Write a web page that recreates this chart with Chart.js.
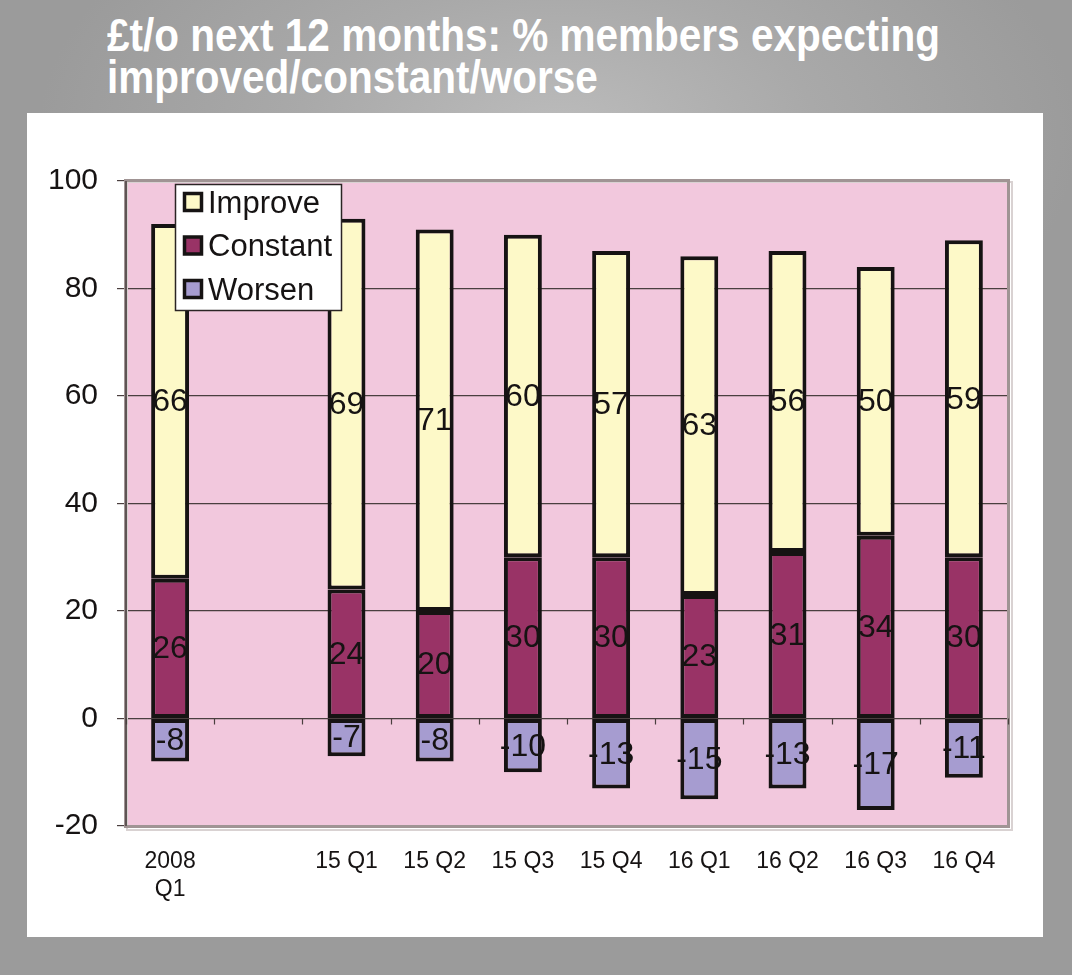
<!DOCTYPE html>
<html>
<head>
<meta charset="utf-8">
<script src="https://cdn.jsdelivr.net/npm/chart.js@4"></script>
<style>
  html, body { margin: 0; padding: 0; }
  body {
    width: 1072px; height: 975px; position: relative; overflow: hidden;
    background: #9b9b9b radial-gradient(ellipse 520px 300px at 52% 14%, #bcbcbc 0%, #a9a9a9 50%, #9b9b9b 100%);
    font-family: 'Liberation Sans', Arial, sans-serif;
  }
  #title {
    position: absolute; left: 107px; top: 14px;
    color: #fff; font-weight: bold; font-size: 46px; line-height: 42px;
    white-space: nowrap;
  }
  #title span { display: inline-block; transform-origin: 0 0; }
  #panel {
    position: absolute; left: 27px; top: 113px; width: 1016px; height: 824px;
    background: #fff;
  }
</style>
</head>
<body>
<div id="title"><span id="t1">£t/o next 12 months: % members expecting</span><br><span id="t2">improved/constant/worse</span></div>
<div id="panel"><canvas id="chart"></canvas></div>
<script>
// ── data ─────────────────────────────────────────────
const categories = [['2008', 'Q1'], '', '15 Q1', '15 Q2', '15 Q3', '15 Q4', '16 Q1', '16 Q2', '16 Q3', '16 Q4'];
const improve  = [66, null, 69, 71, 60, 57, 63, 56, 50, 59];
const constant = [26, null, 24, 20, 30, 30, 23, 31, 34, 30];
const worsen   = [-8, null, -7, -8, -10, -13, -15, -13, -17, -11];
const yMin = -20, yMax = 100, yStep = 20;
const legendOrder = ['Improve', 'Constant', 'Worsen'];

const colors = { Improve: '#fdf9c8', Constant: '#993366', Worsen: '#a69cd0' };
const ink = '#161313';
const fontFamily = "'Liberation Sans', Arial, sans-serif";

// squeeze title to the reference width
(function () {
  const t1 = document.getElementById('t1'), t2 = document.getElementById('t2');
  const k = 833 / t1.getBoundingClientRect().width;
  t1.style.transform = t2.style.transform = 'scaleX(' + k + ')';
})();

// ── plugins ──────────────────────────────────────────
const plotFrame = {
  id: 'plotFrame',
  beforeDraw(chart) {
    const a = chart.chartArea, ctx = chart.ctx;
    ctx.save();
    ctx.fillStyle = '#f2c8dd';
    ctx.fillRect(a.left, a.top, a.right - a.left, a.bottom - a.top);
    ctx.restore();
  },
  beforeDatasetsDraw(chart) {
    const a = chart.chartArea, ctx = chart.ctx;
    const xs = chart.scales.x, ys = chart.scales.y;
    ctx.save();
    // soft shadow + grey frame
    ctx.strokeStyle = '#d9d2d2';
    ctx.lineWidth = 2;
    ctx.strokeRect(a.left + 1, a.top + 1, a.right - a.left + 3, a.bottom - a.top + 3);
    ctx.strokeStyle = '#a09494';
    ctx.lineWidth = 3;
    ctx.strokeRect(a.left - 0.5, a.top - 0.5, a.right - a.left + 1, a.bottom - a.top + 1);
    // dark value axis line
    ctx.strokeStyle = '#4a3f3f';
    ctx.lineWidth = 1.5;
    ctx.beginPath();
    ctx.moveTo(a.left, a.top); ctx.lineTo(a.left, a.bottom);
    ctx.stroke();
    // category tick marks on the zero line
    const y0 = ys.getPixelForValue(0);
    const step = xs.getPixelForValue(1) - xs.getPixelForValue(0);
    ctx.lineWidth = 1.2;
    ctx.beginPath();
    for (let i = 0; i <= categories.length; i++) {
      const x = Math.round(xs.getPixelForValue(i) - step / 2) + 0.5;
      ctx.moveTo(x, y0); ctx.lineTo(x, y0 + 6);
    }
    ctx.stroke();
    ctx.restore();
  },
  afterDatasetsDraw(chart) {
    const ctx = chart.ctx, a = chart.chartArea;
    ctx.save();
    // value labels centred in each segment
    ctx.font = '32px ' + fontFamily;
    ctx.fillStyle = ink;
    ctx.textAlign = 'center';
    ctx.textBaseline = 'middle';
    chart.data.datasets.forEach((ds, di) => {
      chart.getDatasetMeta(di).data.forEach((el, i) => {
        const v = ds.data[i];
        if (v == null) return;
        ctx.fillText(String(v), el.x, (el.y + el.base) / 2 + 1);
      });
    });
    // legend box
    const lx = a.left + 49, ly = a.top + 3, lw = 166, lh = 126;
    ctx.fillStyle = '#fff';
    ctx.fillRect(lx, ly, lw, lh);
    ctx.strokeStyle = '#2b2424';
    ctx.lineWidth = 1.5;
    ctx.strokeRect(lx + 0.5, ly + 0.5, lw, lh);
    ctx.font = '31px ' + fontFamily;
    ctx.textAlign = 'left';
    legendOrder.forEach((name, k) => {
      const cy = ly + 18 + k * 43.5;
      const ds = chart.data.datasets.find(d => d.label === name);
      ctx.fillStyle = ds.backgroundColor;
      ctx.fillRect(lx + 9.5, cy - 8.5, 17, 17);
      ctx.strokeStyle = ink;
      ctx.lineWidth = 3.5;
      ctx.strokeRect(lx + 9.5, cy - 8.5, 17, 17);
      ctx.fillStyle = ink;
      ctx.fillText(name, lx + 33, cy + 2);
    });
    ctx.restore();
  }
};

// ── chart ────────────────────────────────────────────
const barStyle = { borderColor: ink, borderWidth: 4, borderSkipped: false, barPercentage: 0.43, categoryPercentage: 1.0 };

new Chart(document.getElementById('chart'), {
  type: 'bar',
  data: {
    labels: categories,
    datasets: [
      Object.assign({ label: 'Constant', data: constant, backgroundColor: colors.Constant }, barStyle),
      Object.assign({ label: 'Improve',  data: improve,  backgroundColor: colors.Improve }, barStyle),
      Object.assign({ label: 'Worsen',   data: worsen,   backgroundColor: colors.Worsen }, barStyle),
    ]
  },
  options: {
    responsive: true,
    maintainAspectRatio: false,
    animation: false,
    layout: { padding: { top: 68, right: 35, bottom: 0, left: 0 } },
    plugins: { legend: { display: false }, tooltip: { enabled: false } },
    scales: {
      x: {
        stacked: true,
        grid: { display: false },
        border: { display: false },
        ticks: {
          color: ink, autoSkip: false, maxRotation: 0, padding: 14,
          font: { family: fontFamily, size: 23, lineHeight: 1.22 }
        },
        afterFit: s => { s.height = 111; }
      },
      y: {
        stacked: true,
        min: yMin, max: yMax,
        grid: { color: '#4a3f3f', lineWidth: 1.2, tickLength: 9 },
        border: { display: false },
        ticks: {
          stepSize: yStep, color: ink, padding: 19,
          font: { family: fontFamily, size: 30 }
        },
        afterFit: s => { s.width = 99; }
      }
    }
  },
  plugins: [plotFrame]
});
</script>
</body>
</html>
